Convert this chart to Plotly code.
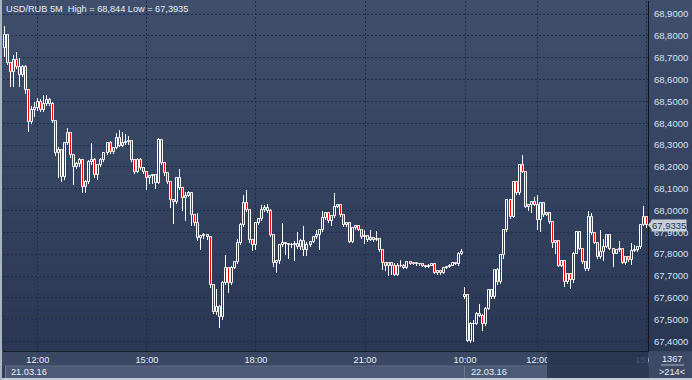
import plotly.graph_objects as go

# ---------------- data (5-minute candles, USD/RUB) ----------------
candle_index = list(range(213))

opens = [
    68.744, 68.803, 68.675, 68.634, 68.689, 68.657, 68.620, 68.657, 68.551, 68.404,
    68.459, 68.469, 68.496, 68.459, 68.487, 68.505, 68.487, 68.409, 68.262, 68.276,
    68.152, 68.308, 68.354, 68.253, 68.198, 68.212, 68.230, 68.106, 68.129, 68.221,
    68.230, 68.161, 68.207, 68.230, 68.262, 68.308, 68.267, 68.285, 68.331, 68.294,
    68.308, 68.313, 68.317, 68.230, 68.175, 68.230, 68.193, 68.175, 68.148, 68.157,
    68.161, 68.125, 68.322, 68.216, 68.171, 68.129, 68.047, 68.037, 68.148, 68.102,
    68.056, 68.065, 68.079, 67.978, 67.941, 67.872, 67.881, 67.886, 67.877, 67.657,
    67.533, 67.560, 67.510, 67.666, 67.735, 67.666, 67.735, 67.762, 67.849, 67.932,
    68.033, 68.001, 67.863, 67.840, 67.941, 67.959, 68.001, 68.010, 67.996, 67.886,
    67.758, 67.767, 67.840, 67.849, 67.845, 67.840, 67.840, 67.845, 67.831, 67.859,
    67.817, 67.840, 67.854, 67.877, 67.886, 67.909, 67.964, 67.987, 67.950, 67.973,
    68.015, 68.024, 67.978, 67.932, 67.941, 67.854, 67.918, 67.927, 67.909, 67.877,
    67.881, 67.863, 67.872, 67.863, 67.868, 67.817, 67.758, 67.748, 67.758, 67.748,
    67.703, 67.748, 67.748, 67.735, 67.762, 67.753, 67.758, 67.753, 67.753, 67.748,
    67.739, 67.748, 67.753, 67.716, 67.721, 67.716, 67.735, 67.739, 67.748, 67.758,
    67.753, 67.803, 67.602, 67.611, 67.404, 67.482, 67.482, 67.528, 67.519, 67.482,
    67.551, 67.634, 67.602, 67.726, 67.671, 67.794, 67.909, 68.047, 67.969, 68.129,
    68.079, 68.207, 68.175, 68.015, 68.024, 68.037, 68.024, 67.955, 68.033, 67.978,
    67.987, 67.946, 67.849, 67.859, 67.744, 67.767, 67.671, 67.707, 67.680, 67.803,
    67.900, 67.826, 67.762, 67.730, 67.969, 67.895, 67.849, 67.785, 67.808, 67.831,
    67.886, 67.826, 67.803, 67.817, 67.822, 67.758, 67.785, 67.772, 67.813, 67.817,
    67.831, 67.932, 67.969,
]

highs = [
    68.844, 68.810, 68.680, 68.712, 68.726, 68.698, 68.665, 68.665, 68.556, 68.478,
    68.497, 68.515, 68.510, 68.528, 68.528, 68.515, 68.495, 68.415, 68.290, 68.280,
    68.310, 68.377, 68.360, 68.260, 68.220, 68.240, 68.235, 68.140, 68.230, 68.308,
    68.240, 68.215, 68.240, 68.270, 68.315, 68.320, 68.290, 68.354, 68.368, 68.360,
    68.350, 68.340, 68.325, 68.235, 68.240, 68.240, 68.200, 68.180, 68.160, 68.165,
    68.165, 68.330, 68.325, 68.220, 68.175, 68.130, 68.050, 68.150, 68.189, 68.105,
    68.085, 68.088, 68.080, 67.980, 67.990, 67.890, 67.895, 67.890, 67.885, 67.660,
    67.640, 67.565, 67.675, 67.795, 67.740, 67.745, 67.770, 67.870, 67.945, 68.070,
    68.093, 68.005, 67.870, 67.945, 67.965, 68.024, 68.025, 68.030, 68.005, 67.890,
    67.775, 67.845, 67.941, 67.855, 67.850, 67.850, 67.860, 67.900, 67.870, 67.930,
    67.855, 67.860, 67.880, 67.910, 67.915, 68.000, 67.995, 67.990, 67.980, 68.080,
    68.030, 68.030, 67.985, 67.945, 67.945, 67.920, 67.930, 67.930, 67.915, 67.910,
    67.885, 67.910, 67.880, 67.905, 67.870, 67.820, 67.760, 67.760, 67.765, 67.760,
    67.760, 67.775, 67.755, 67.770, 67.770, 67.765, 67.760, 67.760, 67.755, 67.750,
    67.755, 67.760, 67.755, 67.725, 67.725, 67.740, 67.745, 67.755, 67.765, 67.765,
    67.810, 67.826, 67.648, 67.615, 67.490, 67.500, 67.535, 67.570, 67.525, 67.560,
    67.640, 67.640, 67.730, 67.735, 67.800, 67.915, 68.050, 68.050, 68.135, 68.135,
    68.210, 68.253, 68.180, 68.030, 68.045, 68.060, 68.070, 68.035, 68.040, 67.990,
    67.990, 67.950, 67.865, 67.865, 67.770, 67.770, 67.710, 67.710, 67.810, 67.905,
    67.905, 67.830, 67.765, 68.000, 67.990, 67.895, 67.850, 67.910, 67.870, 67.890,
    67.890, 67.830, 67.825, 67.860, 67.825, 67.790, 67.790, 67.850, 67.840, 67.835,
    67.935, 68.020, 67.975,
]

lows = [
    68.703, 68.665, 68.565, 68.565, 68.650, 68.565, 68.612, 68.533, 68.359, 68.395,
    68.430, 68.455, 68.450, 68.450, 68.480, 68.480, 68.400, 68.250, 68.148, 68.130,
    68.140, 68.300, 68.240, 68.115, 68.190, 68.200, 68.080, 68.080, 68.120, 68.210,
    68.150, 68.139, 68.200, 68.220, 68.255, 68.260, 68.260, 68.280, 68.290, 68.290,
    68.300, 68.300, 68.220, 68.165, 68.170, 68.185, 68.165, 68.093, 68.120, 68.120,
    68.100, 68.120, 68.210, 68.160, 68.120, 68.010, 67.940, 68.030, 68.095, 68.000,
    67.950, 68.060, 67.930, 67.930, 67.860, 67.817, 67.870, 67.865, 67.645, 67.525,
    67.520, 67.463, 67.500, 67.660, 67.620, 67.660, 67.730, 67.755, 67.840, 67.925,
    67.995, 67.850, 67.815, 67.817, 67.935, 67.950, 67.995, 67.990, 67.880, 67.740,
    67.712, 67.755, 67.835, 67.795, 67.780, 67.830, 67.770, 67.825, 67.820, 67.790,
    67.790, 67.835, 67.850, 67.870, 67.817, 67.900, 67.955, 67.945, 67.930, 67.965,
    68.010, 67.970, 67.925, 67.925, 67.850, 67.850, 67.910, 67.905, 67.870, 67.845,
    67.855, 67.860, 67.855, 67.860, 67.810, 67.726, 67.725, 67.700, 67.705, 67.700,
    67.700, 67.740, 67.730, 67.730, 67.750, 67.750, 67.745, 67.745, 67.740, 67.735,
    67.735, 67.745, 67.710, 67.705, 67.705, 67.710, 67.730, 67.735, 67.745, 67.750,
    67.745, 67.795, 67.595, 67.400, 67.3935, 67.400, 67.475, 67.510, 67.450, 67.470,
    67.545, 67.595, 67.595, 67.660, 67.665, 67.780, 67.900, 67.960, 67.965, 68.070,
    68.070, 68.170, 68.010, 68.000, 67.990, 68.020, 67.910, 67.900, 67.970, 67.975,
    67.940, 67.830, 67.800, 67.740, 67.740, 67.650, 67.665, 67.640, 67.670, 67.800,
    67.820, 67.755, 67.725, 67.725, 67.890, 67.845, 67.780, 67.780, 67.770, 67.830,
    67.820, 67.740, 67.800, 67.810, 67.755, 67.750, 67.765, 67.750, 67.810, 67.810,
    67.825, 67.930, 67.920,
]

closes = [
    68.803, 68.675, 68.634, 68.689, 68.657, 68.620, 68.657, 68.551, 68.404, 68.459,
    68.469, 68.496, 68.459, 68.487, 68.505, 68.487, 68.409, 68.262, 68.276, 68.152,
    68.308, 68.354, 68.253, 68.198, 68.212, 68.230, 68.106, 68.129, 68.221, 68.230,
    68.161, 68.207, 68.230, 68.262, 68.308, 68.267, 68.285, 68.331, 68.294, 68.308,
    68.313, 68.317, 68.230, 68.175, 68.230, 68.193, 68.175, 68.148, 68.157, 68.161,
    68.125, 68.322, 68.216, 68.171, 68.129, 68.047, 68.037, 68.148, 68.102, 68.056,
    68.065, 68.079, 67.978, 67.941, 67.872, 67.881, 67.886, 67.877, 67.657, 67.533,
    67.560, 67.510, 67.666, 67.735, 67.666, 67.735, 67.762, 67.849, 67.932, 68.033,
    68.001, 67.863, 67.840, 67.941, 67.959, 68.001, 68.010, 67.996, 67.886, 67.758,
    67.767, 67.840, 67.849, 67.845, 67.840, 67.840, 67.845, 67.831, 67.859, 67.817,
    67.840, 67.854, 67.877, 67.886, 67.909, 67.964, 67.987, 67.950, 67.973, 68.015,
    68.024, 67.978, 67.932, 67.941, 67.854, 67.918, 67.927, 67.909, 67.877, 67.881,
    67.863, 67.872, 67.863, 67.868, 67.817, 67.758, 67.748, 67.758, 67.748, 67.703,
    67.748, 67.748, 67.735, 67.762, 67.753, 67.758, 67.753, 67.753, 67.748, 67.739,
    67.748, 67.753, 67.716, 67.721, 67.716, 67.735, 67.739, 67.748, 67.758, 67.753,
    67.803, 67.808, 67.611, 67.404, 67.482, 67.482, 67.528, 67.519, 67.482, 67.551,
    67.634, 67.602, 67.726, 67.671, 67.794, 67.909, 68.047, 67.969, 68.129, 68.079,
    68.207, 68.175, 68.015, 68.024, 68.037, 68.024, 67.955, 68.033, 67.978, 67.987,
    67.946, 67.849, 67.859, 67.744, 67.767, 67.671, 67.707, 67.680, 67.803, 67.900,
    67.826, 67.762, 67.730, 67.969, 67.895, 67.849, 67.785, 67.808, 67.831, 67.886,
    67.826, 67.803, 67.817, 67.822, 67.758, 67.785, 67.772, 67.813, 67.817, 67.831,
    67.932, 67.969, 67.9335,
]

time_tick_index = [11, 47, 83, 119, 152, 176, 212]
time_tick_labels = ["12:00", "15:00", "18:00", "21:00", "10:00", "12:00", "15:00"]

price_ticks = [67.4, 67.5, 67.6, 67.7, 67.8, 67.9, 68.0, 68.1, 68.2, 68.3, 68.4, 68.5, 68.6, 68.7, 68.8, 68.9]
price_tick_labels = ["67,4000", "67,5000", "67,6000", "67,7000", "67,8000", "67,9000", "68,0000", "68,1000",
                     "68,2000", "68,3000", "68,4000", "68,5000", "68,6000", "68,7000", "68,8000", "68,9000"]

title_text = "USD/RUB 5M  High = 68,844 Low = 67,3935"
last_price = 67.9335
last_price_label = "67,9335"
date_labels = ["21.03.16", "22.03.16"]
counter_top = "1367"
counter_bottom = ">214<"

# ---------------- layout helpers ----------------
W, H = 692, 380
ML, MR, MT, MB = 3, 44, 1, 29
PW, PH = W - ML - MR, H - MT - MB
X_RANGE = [-0.495, 212.38]
UNIT_PX = PW / (X_RANGE[1] - X_RANGE[0])   # pixels per candle slot


def px(x):
    return (x - ML) / PW


def py(y):
    return (H - MB - y) / PH


FONT = "Liberation Sans, Arial, sans-serif"

# candle geometry derived from the OHLC arrays
body_top = [max(o, c) for o, c in zip(opens, closes)]
body_bot = [min(o, c) for o, c in zip(opens, closes)]
body_len = [t - b for t, b in zip(body_top, body_bot)]
body_fill = ["#ff0000" if c < o else "rgba(0,0,0,0)" for o, c in zip(opens, closes)]

wick_x = candle_index + candle_index
wick_base = body_top + lows
wick_len = [h - t for h, t in zip(highs, body_top)] + [b - l for b, l in zip(body_bot, lows)]

fig = go.Figure()
# wicks (1 px wide)
fig.add_trace(go.Bar(
    x=wick_x, base=wick_base, y=wick_len,
    width=1.0 / UNIT_PX, offset=-1.0 / UNIT_PX,
    marker=dict(color="rgba(255,255,255,0.995)", line=dict(width=0)),
    hoverinfo="skip", showlegend=False,
))
# bodies
fig.add_trace(go.Bar(
    x=candle_index, base=body_bot, y=body_len,
    width=2.0 / UNIT_PX,
    marker=dict(color=body_fill, line=dict(width=1, color="#ffffff")),
    hoverinfo="skip", showlegend=False,
))

shapes = []
# background gradient of chart + right axis area
N = 48
top_c = (63, 79, 108)
bot_c = (42, 56, 84)
for k in range(N):
    t = k / (N - 1)
    c = tuple(round(top_c[j] + (bot_c[j] - top_c[j]) * t) for j in range(3))
    y_top = k * (H - MB) / N
    y_bot = (k + 1) * (H - MB) / N + 0.6
    shapes.append(dict(type="rect", xref="paper", yref="paper", layer="below",
                       x0=px(0), x1=px(W), y0=py(y_bot), y1=py(y_top),
                       line=dict(width=0), fillcolor="rgb(%d,%d,%d)" % c))
# time axis band
shapes.append(dict(type="rect", xref="paper", yref="paper", layer="below",
                   x0=px(0), x1=px(W), y0=py(366), y1=py(351),
                   line=dict(width=0), fillcolor="#3a4863"))
# date band
shapes.append(dict(type="rect", xref="paper", yref="paper", layer="below",
                   x0=px(5), x1=px(648), y0=py(378), y1=py(366),
                   line=dict(width=0), fillcolor="#4c5a76"))
shapes.append(dict(type="line", xref="paper", yref="paper", layer="below",
                   x0=px(5), x1=px(648), y0=py(366), y1=py(366),
                   line=dict(width=1, color="#5f6d88")))
shapes.append(dict(type="line", xref="paper", yref="paper", layer="below",
                   x0=px(5.5), x1=px(5.5), y0=py(378), y1=py(366),
                   line=dict(width=1, color="#6d7a93")))
shapes.append(dict(type="line", xref="paper", yref="paper", layer="below",
                   x0=px(464.5), x1=px(464.5), y0=py(378), y1=py(366),
                   line=dict(width=1, color="#6d7a93")))
# dark overlay (scroll area)
shapes.append(dict(type="rect", xref="paper", yref="paper", layer="above",
                   x0=px(547), x1=px(648), y0=py(378), y1=py(352),
                   line=dict(width=0), fillcolor="rgba(40,53,78,0.85)"))
# right-bottom counter box
shapes.append(dict(type="rect", xref="paper", yref="paper", layer="above",
                   x0=px(649), x1=px(W), y0=py(378), y1=py(352),
                   line=dict(width=0), fillcolor="#3c4a65"))
shapes.append(dict(type="line", xref="paper", yref="paper", layer="above",
                   x0=px(661), x1=px(684), y0=py(365), y1=py(365),
                   line=dict(width=1, color="#aab4c4")))
# outer light borders
shapes.append(dict(type="rect", xref="paper", yref="paper", layer="above",
                   x0=px(0), x1=px(W), y0=py(H), y1=py(378),
                   line=dict(width=0), fillcolor="#c4cbd5"))
shapes.append(dict(type="rect", xref="paper", yref="paper", layer="above",
                   x0=px(0), x1=px(2), y0=py(H), y1=py(0),
                   line=dict(width=0), fillcolor="#aab4c3"))
# last price pointer
shapes.append(dict(type="path", xref="paper", yref="y", layer="above",
                   path="M %f,%f L %f,%f L %f,%f Z" % (px(648), last_price, px(652), last_price + 0.022,
                                                       px(652), last_price - 0.022),
                   line=dict(width=0), fillcolor="#c9ced7"))

annotations = [
    dict(text=title_text, xref="paper", yref="paper", x=px(4), y=py(9), xanchor="left", yanchor="middle",
         showarrow=False, font=dict(family=FONT, size=9.2, color="#e8eef8")),
    dict(text=date_labels[0], xref="paper", yref="paper", x=px(9), y=py(372), xanchor="left", yanchor="middle",
         showarrow=False, font=dict(family=FONT, size=9.2, color="#e8eef8")),
    dict(text=date_labels[1], xref="paper", yref="paper", x=px(469), y=py(372), xanchor="left", yanchor="middle",
         showarrow=False, font=dict(family=FONT, size=9.2, color="#e8eef8")),
    dict(text=counter_top, xref="paper", yref="paper", x=px(672), y=py(358.5), xanchor="center", yanchor="middle",
         showarrow=False, font=dict(family=FONT, size=9.2, color="#e8eef8")),
    dict(text=counter_bottom, xref="paper", yref="paper", x=px(672), y=py(372), xanchor="center", yanchor="middle",
         showarrow=False, font=dict(family=FONT, size=9.2, color="#e8eef8")),
    dict(text=last_price_label, xref="paper", yref="y", x=px(651), y=last_price, xanchor="left", yanchor="middle",
         showarrow=False, bgcolor="#c9ced7", borderpad=0,
         font=dict(family=FONT, size=9.5, color="#23365a")),
]

fig.update_layout(
    width=W, height=H,
    margin=dict(l=ML, r=MR, t=MT, b=MB, pad=0),
    paper_bgcolor="#2e3c58", plot_bgcolor="rgba(0,0,0,0)",
    showlegend=False, barmode="overlay", bargap=0, bargroupgap=0,
    shapes=shapes, annotations=annotations,
    xaxis=dict(
        range=X_RANGE, fixedrange=True,
        tickmode="array", tickvals=time_tick_index, ticktext=time_tick_labels,
        ticks="", showline=True, linecolor="#141c2c", linewidth=1,
        showgrid=True, gridcolor="#1a2d52", griddash="2px,2px", gridwidth=1,
        zeroline=False, tickfont=dict(family=FONT, size=9.2, color="#e8eef8"),
        ticklabelstandoff=0,
    ),
    yaxis=dict(
        side="right", range=[67.3565, 68.9596], fixedrange=True,
        tickmode="array", tickvals=price_ticks, ticktext=price_tick_labels,
        ticks="", showline=True, linecolor="#0e1422", linewidth=1,
        showgrid=True, gridcolor="#1a2d52", griddash="2px,2px", gridwidth=1,
        zeroline=False, tickfont=dict(family=FONT, size=9.5, color="#d6e2f2"),
        ticklabelstandoff=3,
    ),
)

fig.write_html("out.html")
